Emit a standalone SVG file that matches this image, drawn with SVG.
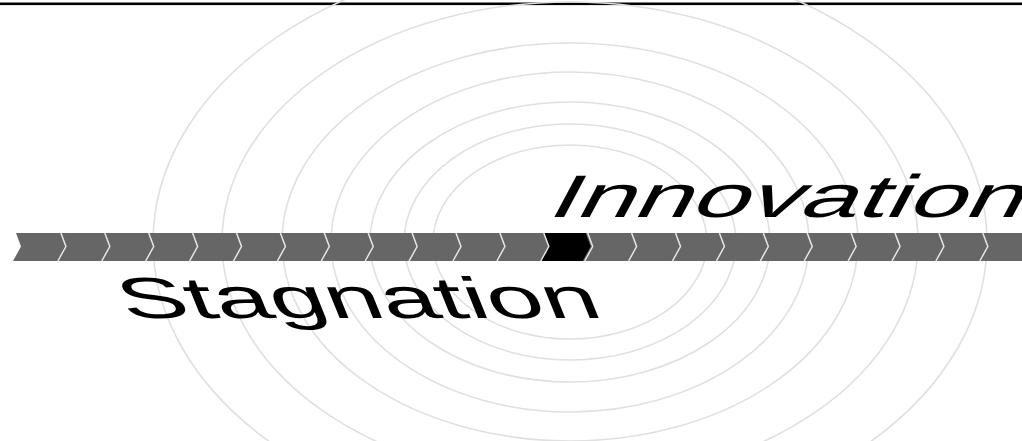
<svg xmlns="http://www.w3.org/2000/svg" width="1022" height="441" viewBox="0 0 1022 441">
<style>
.ring{fill:none;stroke:#e0e0e0;stroke-width:1.6}
.chev{fill:none;stroke:#e6e6e6;stroke-width:1.5}
.lbl{font-family:"Liberation Sans",Arial,sans-serif;fill:#000}
</style>
<defs>
<polyline id="cv" class="chev" points="-2,233 3,246.5 -5,261"/>
</defs>
<rect x="0" y="0" width="1022" height="441" fill="#fff"/>
<g id="topline"><rect x="0" y="2.5" width="1022" height="2.6" fill="#000"/></g>
<g id="rings">
<ellipse class="ring" cx="570" cy="242" rx="137" ry="97"/>
<ellipse class="ring" cx="570" cy="242" rx="166" ry="118"/>
<ellipse class="ring" cx="570" cy="242" rx="200" ry="140"/>
<ellipse class="ring" cx="570" cy="242" rx="239" ry="170"/>
<ellipse class="ring" cx="570" cy="242" rx="288" ry="199"/>
<ellipse class="ring" cx="570" cy="242" rx="348" ry="240"/>
<ellipse class="ring" cx="570" cy="242" rx="417" ry="288"/>
</g>
<g id="band">
<polygon points="16,233 1022,233 1022,261 13,261 21,246.5" fill="#666"/>
<polygon id="current" points="543.8,233 548.8,246.5 540.8,261 582.7,261 590.7,246.5 585.7,233" fill="#000"/>
<use href="#cv" x="62.9"/><use href="#cv" x="106.8"/><use href="#cv" x="150.7"/><use href="#cv" x="194.6"/>
<use href="#cv" x="238.5"/><use href="#cv" x="282.4"/><use href="#cv" x="326.3"/><use href="#cv" x="370.2"/>
<use href="#cv" x="414.1"/><use href="#cv" x="458"/><use href="#cv" x="501.9"/><use href="#cv" x="545.8"/>
<use href="#cv" x="589.7"/><use href="#cv" x="633.6"/><use href="#cv" x="677.5"/><use href="#cv" x="721.4"/>
<use href="#cv" x="765.3"/><use href="#cv" x="809.2"/><use href="#cv" x="853.1"/><use href="#cv" x="897"/>
<use href="#cv" x="940.9"/><use href="#cv" x="984.8"/>
</g>
<g id="innovation" transform="translate(545,217) skewX(-28)">
<text class="lbl" x="0" y="0" font-size="60" textLength="474" lengthAdjust="spacingAndGlyphs">Innovation</text>
</g>
<g id="stagnation" transform="translate(127,318) skewX(22)">
<text class="lbl" x="0" y="0" font-size="58" textLength="478" lengthAdjust="spacingAndGlyphs">Stagnation</text>
</g>
</svg>
